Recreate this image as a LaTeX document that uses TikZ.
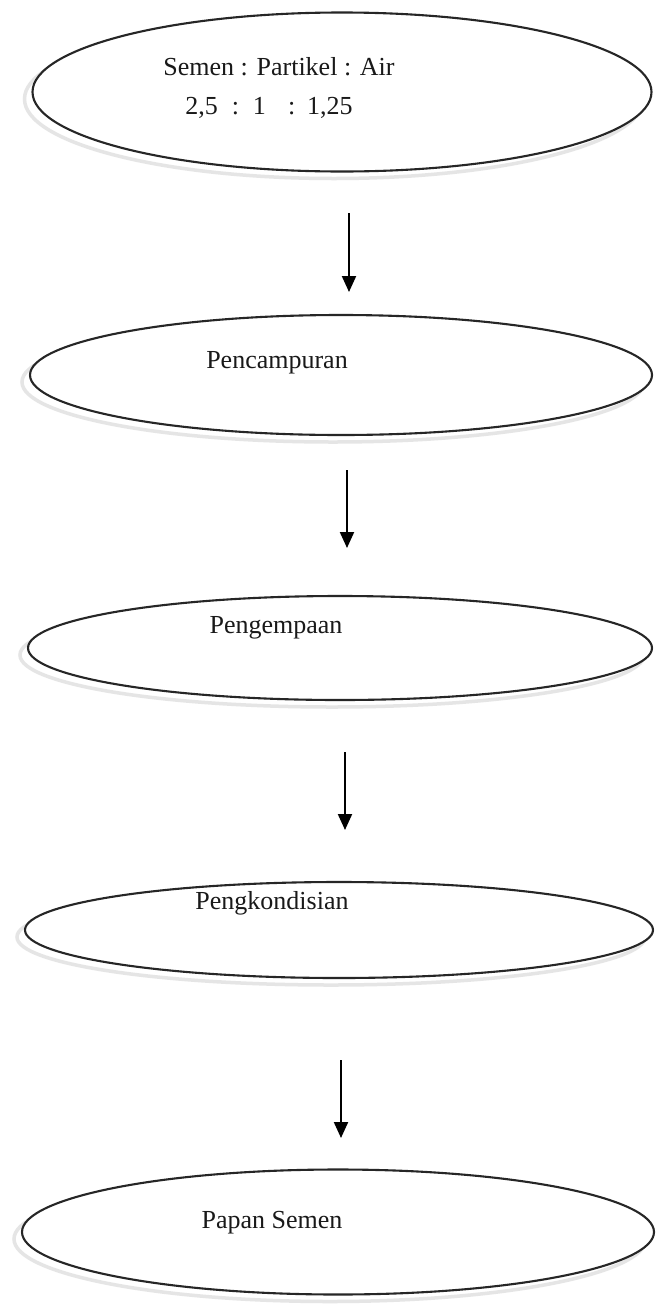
\documentclass[tikz,border=0pt]{standalone}
\usepackage{fontspec}
\setmainfont{Liberation Serif}
\usetikzlibrary{arrows.meta,shapes.geometric}
\tikzset{
  oval/.style={draw=black!85, line width=2.1pt, fill=white, ellipse, inner sep=0pt},
  ovalshadow/.style={draw=gray!20, line width=3.5pt, ellipse, inner sep=0pt},
  lbl/.style={font=\fontsize{26}{39}\selectfont, align=center, inner sep=0pt, text=black!90},
  arr/.style={draw=black, line width=2.1pt, -{Triangle[width=14pt,length=16pt]}}
}
\begin{document}
\begin{tikzpicture}[x=1pt,y=-1pt]
\useasboundingbox[fill=white] (0,0) rectangle (656,1304);
% shadows
\node[ovalshadow, minimum width=619pt, minimum height=159pt] (s1) at (334,99) {};
\node[ovalshadow, minimum width=622pt, minimum height=120pt] (s2) at (333,382) {};
\node[ovalshadow, minimum width=624pt, minimum height=104pt] (s3) at (332,655) {};
\node[ovalshadow, minimum width=628pt, minimum height=96pt] (s4) at (331,937) {};
\node[ovalshadow, minimum width=632pt, minimum height=125pt] (s5) at (330,1239) {};
% ellipses
\node[oval, minimum width=619pt, minimum height=159pt] (e1) at (342,92) {};
\node[oval, minimum width=622pt, minimum height=120pt] (e2) at (341,375) {};
\node[oval, minimum width=624pt, minimum height=104pt] (e3) at (340,648) {};
\node[oval, minimum width=628pt, minimum height=96pt] (e4) at (339,930) {};
\node[oval, minimum width=632pt, minimum height=125pt] (e5) at (338,1232) {};
% labels
\node[lbl] (t1) at (279,88) {Semen : Partikel : Air\\2,5\hspace{14pt}:\hspace{14pt}1\hspace{22pt}:\hspace{12pt}1,25\hspace*{20pt}};
\node[lbl] (t2) at (277,363) {Pencampuran};
\node[lbl] (t3) at (276,628) {Pengempaan};
\node[lbl] (t4) at (272,903) {Pengkondisian};
\node[lbl] (t5) at (272,1223) {Papan Semen};
% arrow end points
\coordinate (a1s) at (349,213); \coordinate (a1e) at (349,292);
\coordinate (a2s) at (347,470); \coordinate (a2e) at (347,548);
\coordinate (a3s) at (345,752); \coordinate (a3e) at (345,830);
\coordinate (a4s) at (341,1060); \coordinate (a4e) at (341,1138);
\draw[arr] (a1s) -- (a1e);
\draw[arr] (a2s) -- (a2e);
\draw[arr] (a3s) -- (a3e);
\draw[arr] (a4s) -- (a4e);
\end{tikzpicture}
\end{document}
